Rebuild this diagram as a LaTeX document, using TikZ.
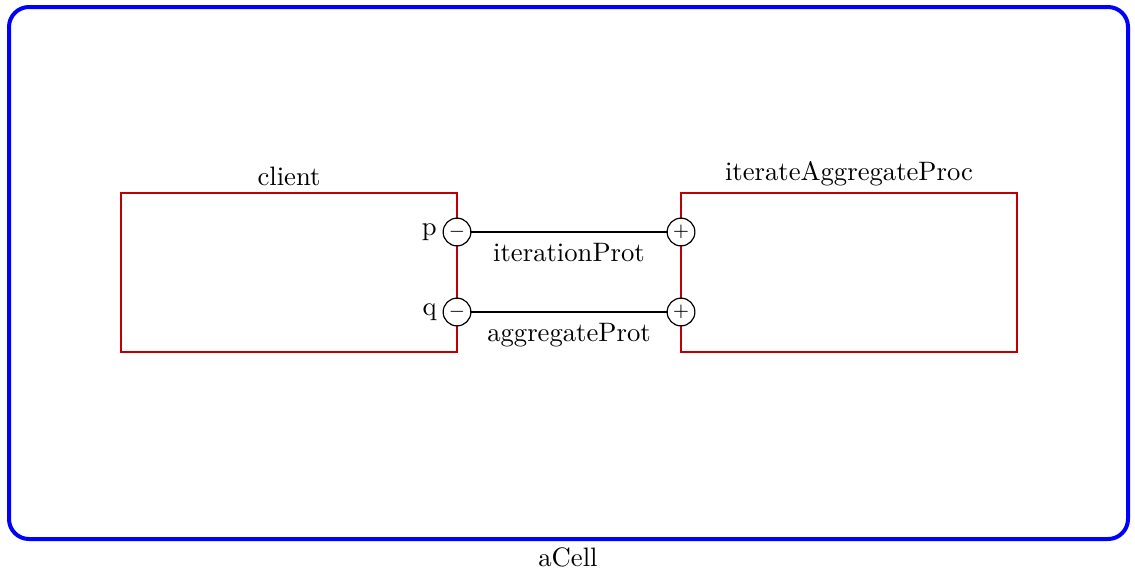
\documentclass[tikz,border=0pt]{standalone}
\begin{document}
\begin{tikzpicture}[x=0.375pt,y=-0.375pt,
  cell/.style={draw=blue,line width=1.5pt,rounded corners=7.5pt},
  part/.style={draw=red!75!black,line width=0.45pt},
  port/.style={circle,draw=black,fill=white,line width=0.45pt,minimum size=10.4pt,inner sep=0pt,font=\scriptsize},
  wire/.style={draw=black,line width=0.4pt},
  lbl/.style={inner sep=1pt}]
  \useasboundingbox (0,0) rectangle (1135,569);
  % enclosing cell
  \draw[cell] (9,7) rectangle (1128,539);
  \node[lbl,anchor=north] (cellname) at (568,544) {aCell};
  % parts
  \draw[part] (121,193) rectangle (457,352);
  \node[lbl,anchor=south] (clientlbl) at (289,189) {client};
  \draw[part] (681,193) rectangle (1017,352);
  \node[lbl,anchor=south] (iterlbl) at (849,189) {iterateAggregateProc};
  % ports
  \node[port] (p) at (457,232) {$-$};
  \node[port] (q) at (457,312) {$-$};
  \node[port] (pr) at (681,232) {$+$};
  \node[port] (qr) at (681,312) {$+$};
  \node[lbl,anchor=east,xshift=-1pt] at (p.west) {p};
  \node[lbl,anchor=east,xshift=-1pt] at (q.west) {q};
  % connectors
  \draw[wire] (p) -- node[below,lbl,yshift=-3pt] {iterationProt} (pr);
  \draw[wire] (q) -- node[below,lbl,yshift=-3pt] {aggregateProt} (qr);
\end{tikzpicture}
\end{document}
